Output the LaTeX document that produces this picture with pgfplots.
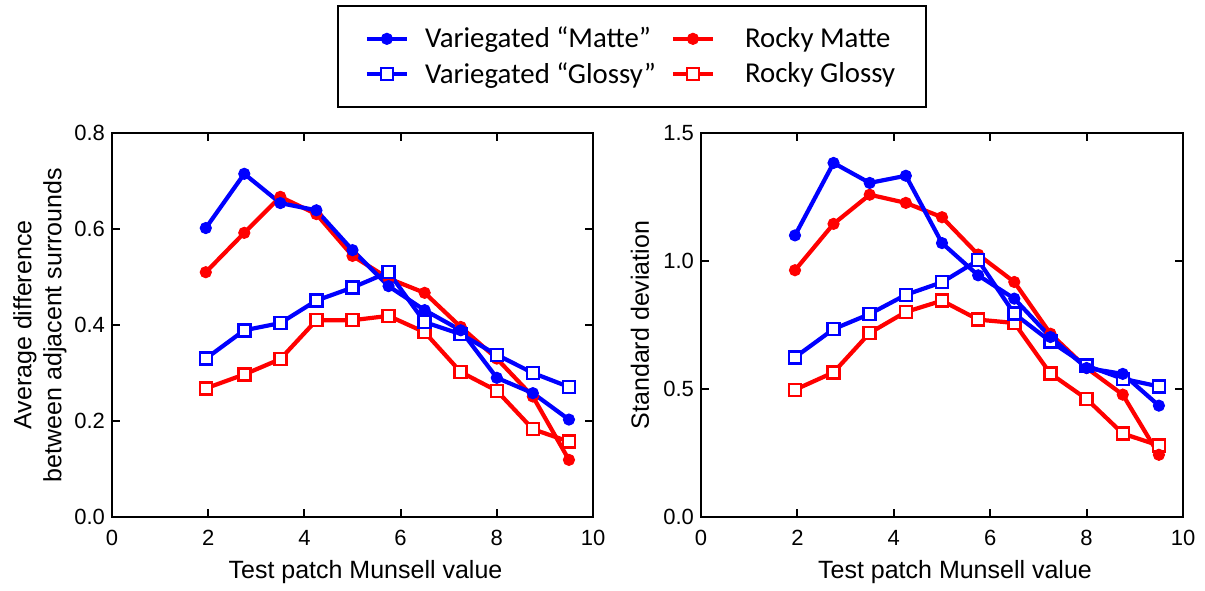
\documentclass[border=0pt]{standalone}
\usepackage{fontspec}
\setmainfont{Liberation Sans}
\newfontfamily\calibri{Carlito}
\usepackage{pgfplots}
\pgfplotsset{compat=1.18}
\pgfplotsset{
  vm/.style={blue, line width=2.1pt, mark=*, mark size=2.8pt, mark options={solid, fill=blue, line width=0.5pt}},
  rm/.style={red, line width=2.1pt, mark=*, mark size=2.8pt, mark options={solid, fill=red, line width=0.5pt}},
  vg/.style={blue, line width=2.1pt, mark=square*, mark size=3pt, mark options={solid, fill=white, line width=1.25pt}},
  rg/.style={red, line width=2.1pt, mark=square*, mark size=3pt, mark options={solid, fill=white, line width=1.25pt}},
  common/.style={
    scale only axis, height=192pt,
    xmin=0, xmax=10, ymin=0,
    xtick={0,2,4,6,8,10},
    axis line style={line width=1.25pt},
    tick style={line width=1pt, black},
    major tick length=4pt,
    tick align=inside,
    tick label style={font=\fontsize{11}{12}\selectfont},
    /pgf/number format/assume math mode=true,
    xticklabel style={yshift=-3pt},
    label style={font=\fontsize{12.5}{15}\selectfont},
    xlabel={Test patch Munsell value},
    xlabel style={at={(axis description cs:0.527,-0.143)}, anchor=center},
    yticklabel style={/pgf/number format/fixed, /pgf/number format/fixed zerofill, /pgf/number format/precision=1},
    clip=false,
  },
}
\begin{document}
\begin{tikzpicture}
\useasboundingbox (-56pt,-36.5pt) rectangle (546.5pt,258.5pt);
\begin{axis}[common,
  at={(0,0)}, anchor=south west, width=240.5pt,
  ymax=0.8, ytick={0,0.2,0.4,0.6,0.8},
  ylabel={Average difference\\between adjacent surrounds},
  ylabel style={align=center, at={(axis description cs:-0.15,0.5)}, anchor=center},
  legend columns=2,
  legend cell align=left,
  legend image code/.code={\draw[mark repeat=2,mark phase=2,#1] plot coordinates {(0pt,0pt) (10pt,0pt) (20pt,0pt)};},
  legend style={at={(axis description cs:1.081,1.1992)}, anchor=center,
    draw=black, line width=1pt, inner xsep=13.5pt, inner ysep=8.6pt,
    font=\calibri\fontsize{14.4}{17}\selectfont,
    nodes={inner sep=2pt},
    /tikz/every odd column/.append style={column sep=6pt},
    /tikz/every even column/.append style={column sep=5.5pt},
    row sep=1.8pt},
]
\addlegendimage{vm}\addlegendentry{Variegated “Matte”}
\addlegendimage{rm}\addlegendentry{\hspace{7pt}Rocky Matte\hspace{1.6pt}}
\addlegendimage{vg}\addlegendentry{Variegated “Glossy”}
\addlegendimage{rg}\addlegendentry{\hspace{7pt}Rocky Glossy\hspace{1.6pt}}
% Rocky Glossy
\addplot[rg, forget plot] coordinates {(1.95,0.268) (2.75,0.297) (3.5,0.329) (4.25,0.410) (5.0,0.410) (5.75,0.419) (6.5,0.385) (7.25,0.302) (8.0,0.263) (8.75,0.183) (9.5,0.157)};
% Rocky Matte
\addplot[rm, forget plot] coordinates {(1.95,0.510) (2.75,0.592) (3.5,0.667) (4.25,0.631) (5.0,0.544) (5.75,0.497) (6.5,0.467) (7.25,0.396) (8.0,0.330) (8.75,0.251) (9.5,0.119)};
% Variegated Glossy
\addplot[vg, forget plot] coordinates {(1.95,0.330) (2.75,0.389) (3.5,0.404) (4.25,0.451) (5.0,0.478) (5.75,0.510) (6.5,0.406) (7.25,0.381) (8.0,0.338) (8.75,0.300) (9.5,0.271)};
% Variegated Matte
\addplot[vm, forget plot] coordinates {(1.95,0.602) (2.75,0.715) (3.5,0.654) (4.25,0.639) (5.0,0.556) (5.75,0.481) (6.5,0.431) (7.25,0.389) (8.0,0.290) (8.75,0.258) (9.5,0.203)};
\end{axis}
\begin{axis}[common,
  at={(294.5pt,0)}, anchor=south west, width=241pt,
  ymax=1.5, ytick={0,0.5,1.0,1.5},
  ylabel={Standard deviation},
  ylabel style={at={(axis description cs:-0.1266,0.5)}, anchor=center},
]
\addplot[rg] coordinates {(1.95,0.497) (2.75,0.565) (3.5,0.719) (4.25,0.801) (5.0,0.845) (5.75,0.771) (6.5,0.758) (7.25,0.560) (8.0,0.461) (8.75,0.326) (9.5,0.279)};
\addplot[rm] coordinates {(1.95,0.964) (2.75,1.145) (3.5,1.259) (4.25,1.227) (5.0,1.171) (5.75,1.025) (6.5,0.918) (7.25,0.716) (8.0,0.582) (8.75,0.478) (9.5,0.243)};
\addplot[vg] coordinates {(1.95,0.624) (2.75,0.734) (3.5,0.793) (4.25,0.868) (5.0,0.917) (5.75,1.003) (6.5,0.794) (7.25,0.686) (8.0,0.591) (8.75,0.540) (9.5,0.510)};
\addplot[vm] coordinates {(1.95,1.100) (2.75,1.383) (3.5,1.305) (4.25,1.333) (5.0,1.070) (5.75,0.944) (6.5,0.853) (7.25,0.703) (8.0,0.582) (8.75,0.559) (9.5,0.435)};
\end{axis}
\end{tikzpicture}
\end{document}
